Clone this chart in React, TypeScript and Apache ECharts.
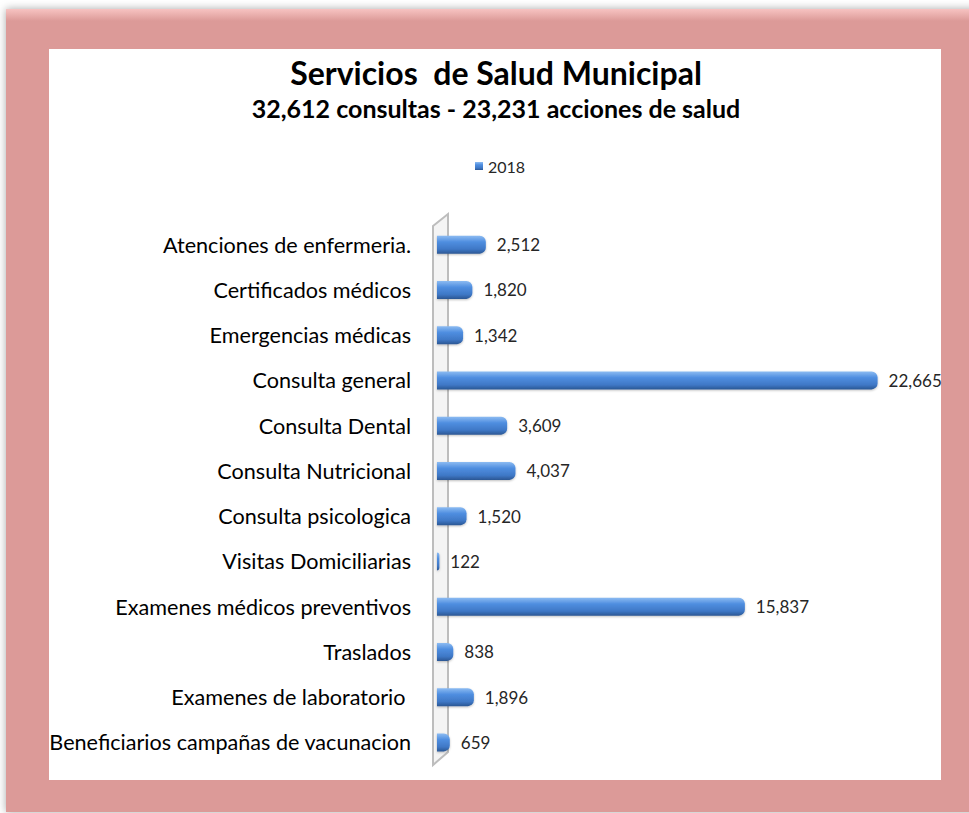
import React, { useEffect, useRef } from "react";
import * as echarts from "echarts";

const categories = [
  "Atenciones de enfermeria.",
  "Certificados médicos",
  "Emergencias médicas",
  "Consulta general",
  "Consulta Dental",
  "Consulta Nutricional",
  "Consulta psicologica",
  "Visitas Domiciliarias",
  "Examenes médicos preventivos",
  "Traslados",
  "Examenes de laboratorio ",
  "Beneficiarios campañas de vacunacion",
];
const values2018 = [2512, 1820, 1342, 22665, 3609, 4037, 1520, 122, 15837, 838, 1896, 659];
const seriesName = "2018";
const titleText = "Servicios  de Salud Municipal";
const subtitleText = "32,612 consultas - 23,231 acciones de salud";

const FONT = "Lato, 'Open Sans', sans-serif";

export default function App() {
  const ref = useRef<HTMLDivElement>(null);
  useEffect(() => {
    if (!ref.current) return;
    const chart = echarts.init(ref.current, null, { renderer: "svg" });
    const fmt = (v: number) => v.toLocaleString("en-US");
    chart.setOption({
      animation: false,
      backgroundColor: "#ffffff",
      textStyle: { fontFamily: FONT },
      graphic: [
        {
          type: "rect",
          z: -10,
          shape: { x: 6, y: 9, width: 980, height: 803 },
          style: { fill: "#dc9a98", shadowBlur: 8, shadowColor: "rgba(0,0,0,0.35)" },
        },
        {
          type: "rect",
          z: -9,
          shape: { x: 6, y: 9, width: 980, height: 12 },
          style: {
            fill: new echarts.graphic.LinearGradient(0, 0, 0, 1, [
              { offset: 0, color: "#f7c3c2" },
              { offset: 1, color: "#dc9a98" },
            ]),
          },
        },
        {
          type: "rect",
          z: -8,
          shape: { x: 49, y: 49, width: 892, height: 731 },
          style: { fill: "#ffffff" },
        },
        {
          type: "polygon",
          z: -5,
          shape: { points: [[433, 226], [448, 214], [448, 752], [433, 765]] },
          style: { fill: "#f4f4f4", stroke: "#bdbdbd", lineWidth: 2 },
        },
        {
          type: "text",
          z: 5,
          x: 496,
          y: 72,
          style: {
            text: titleText,
            align: "center",
            verticalAlign: "middle",
            fontFamily: FONT,
            fontWeight: "bold",
            fontSize: 32,
            fill: "#000000",
          },
        },
        {
          type: "text",
          z: 5,
          x: 496,
          y: 108,
          style: {
            text: subtitleText,
            align: "center",
            verticalAlign: "middle",
            fontFamily: FONT,
            fontWeight: "bold",
            fontSize: 25,
            fill: "#000000",
          },
        },
      ],
      legend: {
        data: [seriesName],
        left: 470,
        top: 153,
        icon: "rect",
        itemWidth: 8,
        itemHeight: 8,
        itemGap: 6,
        textStyle: { fontSize: 16, color: "#262626", fontFamily: FONT },
      },
      grid: { left: 437, right: 46, top: 222, bottom: 48, containLabel: false },
      xAxis: {
        type: "value",
        min: 0,
        max: 25000,
        show: false,
        splitLine: { show: false },
      },
      yAxis: {
        type: "category",
        data: categories,
        inverse: true,
        axisLine: { show: false },
        axisTick: { show: false },
        axisLabel: { fontSize: 21.6, color: "#000000", margin: 26, fontFamily: FONT },
      },
      series: [
        {
          name: seriesName,
          type: "bar",
          data: values2018,
          barWidth: 18,
          itemStyle: {
            borderRadius: [0, 6, 6, 0],
            color: new echarts.graphic.LinearGradient(0, 0, 0, 1, [
              { offset: 0, color: "#8dbcf2" },
              { offset: 0.35, color: "#4f8ee0" },
              { offset: 0.75, color: "#3f78c6" },
              { offset: 1, color: "#2b5794" },
            ]),
            shadowBlur: 2,
            shadowColor: "rgba(0,0,0,0.25)",
            shadowOffsetY: 1,
          },
          label: {
            show: true,
            position: "right",
            distance: 11,
            fontSize: 17,
            color: "#262626",
            fontFamily: FONT,
            formatter: (p: any) => fmt(p.value),
          },
        },
      ],
    });
    return () => chart.dispose();
  }, []);
  return (
    <div
      ref={ref}
      style={{ position: "fixed", left: 0, top: 0, width: 969, height: 813 }}
    />
  );
}
